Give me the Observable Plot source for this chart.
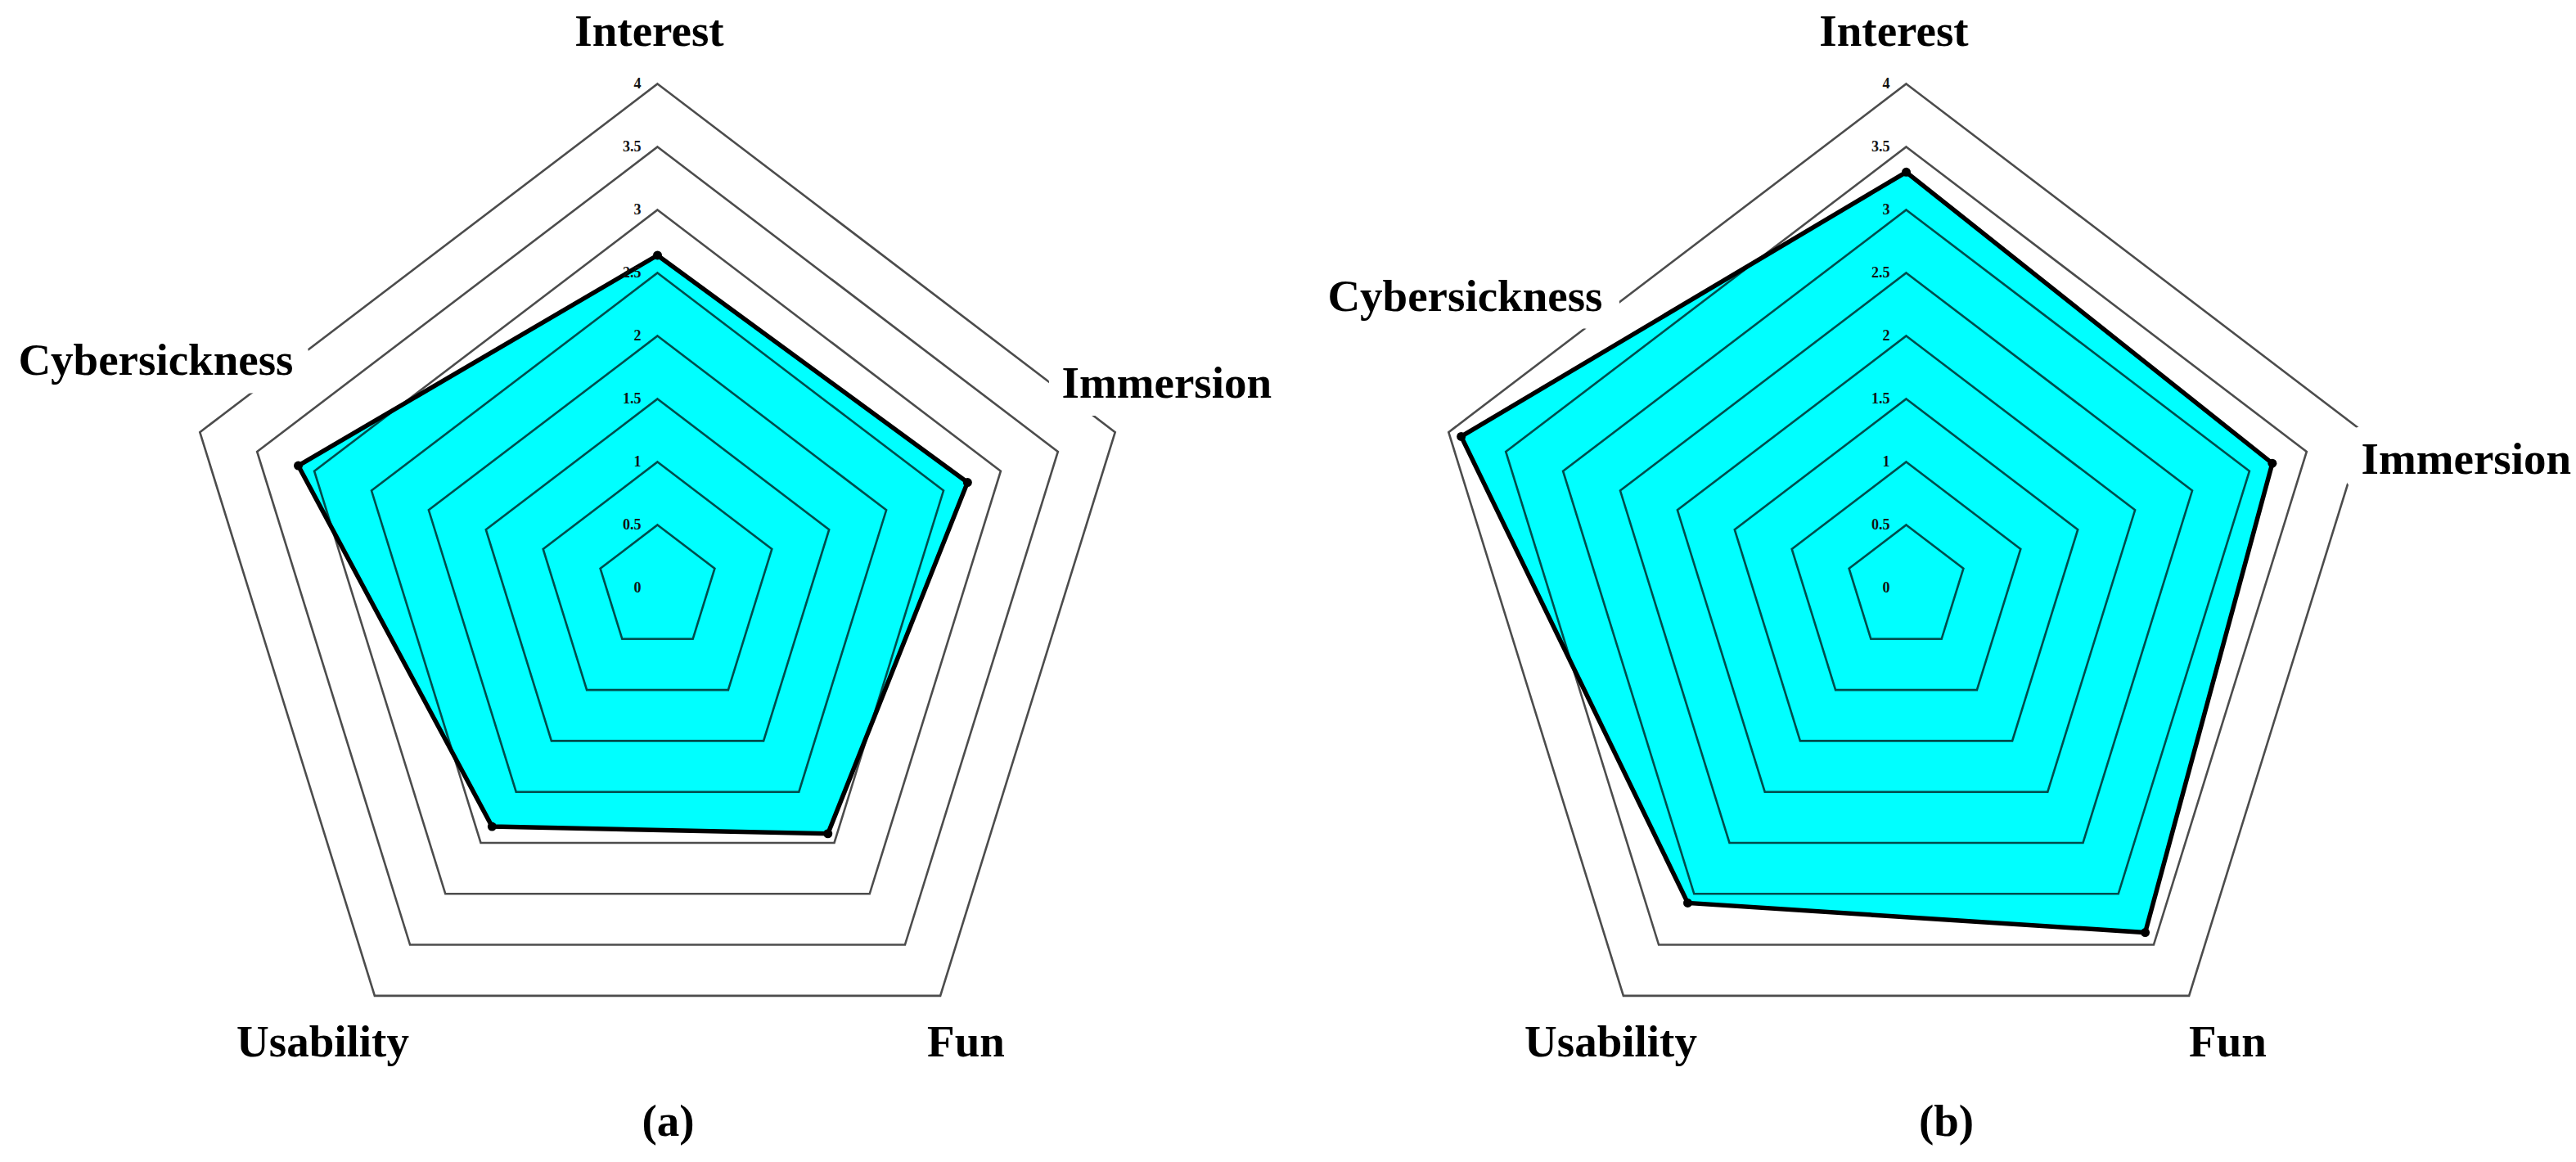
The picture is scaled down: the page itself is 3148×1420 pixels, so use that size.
<!DOCTYPE html>
<html>
<head>
<meta charset="utf-8">
<script src="https://cdn.jsdelivr.net/npm/d3@7"></script>
<script src="https://cdn.jsdelivr.net/npm/@observablehq/plot@0.6"></script>
<style>
  html, body { margin: 0; padding: 0; background: #ffffff; }
  #chart svg { display: block; }
</style>
</head>
<body>
<div id="chart"></div>
<script>
// ---- data ----
const axes = ["Interest", "Immersion", "Fun", "Usability", "Cybersickness"];
const valuesA = [2.64, 2.71, 2.41, 2.34, 3.14];
const valuesB = [3.30, 3.20, 3.38, 3.09, 3.89];
const panels = ["(a)", "(b)"];
const ringLevels = [0.5, 1, 1.5, 2, 2.5, 3, 3.5, 4];
const tickValues = [0, 0.5, 1, 1.5, 2, 2.5, 3, 3.5, 4];
const tickLabels = ["0", "0.5", "1", "1.5", "2", "2.5", "3", "3.5", "4"];

// ---- layout (pixels) ----
const W = 3148, H = 1420;
const pxX = 147, pxY = 154;            // pixels per unit of radius
const centersPx = [[803, 718], [2329, 718]];
const offs = centersPx.map(c => (c[0] - centersPx[0][0]) / pxX);
// label placement relative to panel centre (px): [dx, dy, anchor]
const labelLayout = [
  {Interest: [-10, -680, "middle"], Immersion: [494, -250, "start"], Fun: [377, 555, "middle"], Usability: [-409, 555, "middle"], Cybersickness: [-445, -278, "end"]},
  {Interest: [-15, -680, "middle"], Immersion: [556, -157, "start"], Fun: [393, 555, "middle"], Usability: [-361, 555, "middle"], Cybersickness: [-371, -356, "end"]}
];
const panelLabelLayout = [[13, 652], [49, 652]];

const TAU = 2 * Math.PI;
function pt(off, i, r) {
  const t = i * TAU / axes.length;
  return {x: off + r * Math.sin(t), y: r * Math.cos(t)};
}

const ringData = [];
panels.forEach((p, k) => ringLevels.forEach(lv => axes.forEach((a, i) =>
  ringData.push({panel: p, key: p + lv, ...pt(offs[k], i, lv)}))));

const seriesData = [];
[valuesA, valuesB].forEach((vals, k) => vals.forEach((v, i) =>
  seriesData.push({panel: panels[k], axis: axes[i], value: v, ...pt(offs[k], i, v)})));

const tickData = [];
panels.forEach((p, k) => tickValues.forEach((v, j) =>
  tickData.push({x: offs[k], y: v, label: tickLabels[j]})));

const labelData = [];
panels.forEach((p, k) => axes.forEach(a => {
  const [dx, dy, anchor] = labelLayout[k][a];
  labelData.push({x: offs[k] + dx / pxX, y: -dy / pxY, label: a, anchor});
}));
panels.forEach((p, k) => {
  const [dx, dy] = panelLabelLayout[k];
  labelData.push({x: offs[k] + dx / pxX, y: -dy / pxY, label: p, anchor: "middle"});
});

const font = "'Liberation Serif', 'Times New Roman', serif";
const labelStyle = {x: "x", y: "y", text: "label", fontSize: 55, fontWeight: "bold", fill: "#000", stroke: "#fff", strokeWidth: 44, strokeLinejoin: "round", paintOrder: "stroke", fontFamily: font};

const chart = Plot.plot({
  width: W,
  height: H,
  margin: 0,
  style: {background: "#ffffff", fontFamily: font},
  x: {domain: [-centersPx[0][0] / pxX, (W - centersPx[0][0]) / pxX], axis: null},
  y: {domain: [-(H - centersPx[0][1]) / pxY, centersPx[0][1] / pxY], axis: null},
  marks: [
    Plot.line(seriesData, {x: "x", y: "y", z: "panel", curve: "linear-closed", fill: "#00ffff", stroke: "none"}),
    Plot.line(ringData, {x: "x", y: "y", z: "key", curve: "linear-closed", stroke: "#000", strokeOpacity: 0.7, strokeWidth: 2.6, strokeLinejoin: "miter", strokeMiterlimit: 10}),
    Plot.line(seriesData, {x: "x", y: "y", z: "panel", curve: "linear-closed", stroke: "#000", strokeWidth: 5.5, strokeLinejoin: "miter", strokeMiterlimit: 10}),
    Plot.dot(seriesData, {x: "x", y: "y", r: 5.5, fill: "#000"}),
    Plot.text(tickData, {x: "x", y: "y", text: "label", textAnchor: "end", dx: -20, fontSize: 18, fontWeight: "bold", fill: "#111", fontFamily: font}),
    Plot.text(labelData.filter(d => d.anchor === "middle"), {...labelStyle, textAnchor: "middle"}),
    Plot.text(labelData.filter(d => d.anchor === "start"), {...labelStyle, textAnchor: "start"}),
    Plot.text(labelData.filter(d => d.anchor === "end"), {...labelStyle, textAnchor: "end"})
  ]
});
document.getElementById("chart").appendChild(chart);
</script>
</body>
</html>
